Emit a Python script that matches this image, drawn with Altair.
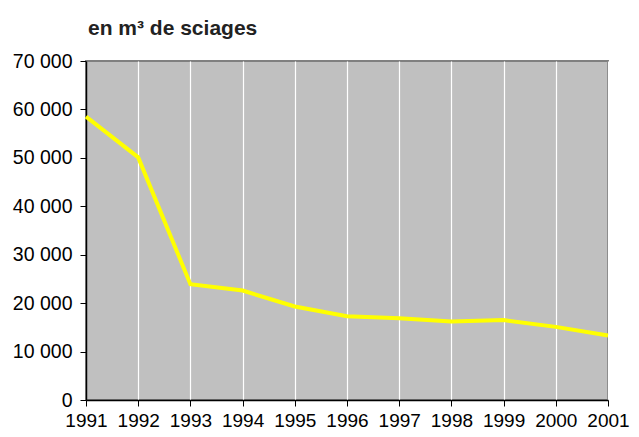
import altair as alt
import pandas as pd

years = [1991, 1992, 1993, 1994, 1995, 1996, 1997, 1998, 1999, 2000, 2001]
volumes = [58500, 50100, 23900, 22600, 19300, 17300, 16900, 16200, 16500, 15100, 13300]
y_ticks = [0, 10000, 20000, 30000, 40000, 50000, 60000, 70000]

df = pd.DataFrame({"annee": years, "volume": volumes})

chart = alt.Chart(df).mark_line(color="#FFFF00", strokeWidth=4).encode(
    x=alt.X("annee:Q",
            scale=alt.Scale(domain=[1991, 2001], nice=False, zero=False),
            axis=alt.Axis(values=years, format="d", title=None, grid=True,
                          gridColor="#FFFFFF", gridWidth=1.2,
                          domainColor="#000000", domainWidth=1.5,
                          tickColor="#000000", tickSize=6,
                          labelFontSize=19, labelColor="#000000",
                          labelPadding=5, labelFont="Liberation Sans",
                          labelFlush=False, labelOverlap=False)),
    y=alt.Y("volume:Q",
            scale=alt.Scale(domain=[0, 70000], nice=False),
            axis=alt.Axis(values=y_ticks, title=None, grid=False,
                          labelExpr="datum.value == 0 ? '0' : floor(datum.value / 1000) + ' 000'",
                          domainColor="#000000", domainWidth=1.5,
                          tickColor="#000000", tickSize=6,
                          labelFontSize=19.5, labelColor="#000000",
                          labelPadding=8, labelFont="Liberation Sans")),
).properties(
    width=522,
    height=339,
    padding={"left": 78, "top": 53, "right": 23, "bottom": 29},
    autosize=alt.AutoSizeParams(type="none"),
    background="#FFFFFF",
    title=alt.TitleParams("en m³ de sciages", anchor="start", frame="group",
                          font="Liberation Sans", fontSize=21, fontWeight="bold",
                          color="#222222", offset=12, dx=2),
).configure_view(
    fill="#C0C0C0", stroke="#808080", strokeWidth=2
)

chart.save("out.html", embed_options={"renderer": "svg", "actions": False})
